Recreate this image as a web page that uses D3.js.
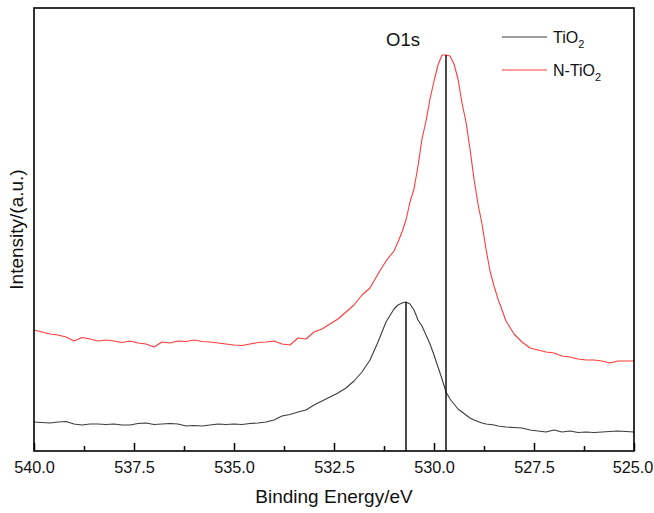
<!DOCTYPE html>
<html>
<head>
<meta charset="utf-8">
<script src="https://cdn.jsdelivr.net/npm/d3@7"></script>
<style>
  html, body { margin: 0; padding: 0; background: #fff; }
  svg { display: block; font-family: "Liberation Sans", Arial, sans-serif; }
</style>
</head>
<body>
<svg id="chart" width="654" height="513"></svg>
<script>
// O 1s XPS spectra, binding energy in eV (descending), intensity in arbitrary units
const energy = [
  540.0, 539.8, 539.6, 539.4, 539.2, 539.0, 538.8, 538.6, 538.4, 538.2,
  538.0, 537.8, 537.6, 537.4, 537.2, 537.0, 536.8, 536.6, 536.4, 536.2,
  536.0, 535.8, 535.6, 535.4, 535.2, 535.0, 534.8, 534.6, 534.4, 534.2,
  534.0, 533.8, 533.6, 533.4, 533.2, 533.0, 532.8, 532.6, 532.4, 532.2,
  532.0, 531.8, 531.6, 531.4, 531.2,
  531.0, 530.9, 530.8, 530.7, 530.6, 530.5, 530.4, 530.3, 530.2, 530.1,
  530.0, 529.9, 529.8, 529.7, 529.6, 529.5, 529.4, 529.3, 529.2, 529.1,
  529.0, 528.9, 528.8, 528.7, 528.6, 528.5, 528.4,
  528.2, 528.0, 527.8, 527.6, 527.4, 527.2, 527.0, 526.8, 526.6, 526.4,
  526.2, 526.0, 525.8, 525.6, 525.4, 525.2, 525.0
];

const tio2 = [
  29, 28.5, 28, 29, 29.5, 27, 26, 27, 27, 26.5,
  27, 26, 26, 27.5, 28, 26.5, 27, 27.5, 27, 25,
  25.5, 25, 26, 27, 26.5, 27, 26.5, 27.5, 28, 29,
  31, 35, 36.5, 39, 41, 46, 50, 54, 58, 63,
  70, 79, 91, 109, 129,
  142, 146, 148, 149, 147, 141, 131, 125, 116, 107,
  96, 84, 72, 59, 52, 47, 42, 39, 36, 33,
  31, 29.5, 28, 27, 26.5, 26, 25,
  24, 23.5, 23, 21, 20, 19, 21, 19, 20, 18.5,
  19, 18.5, 19, 19.5, 20, 19.5, 19
];

const ntio2 = [
  121, 119, 117, 116, 114, 110, 113.5, 112, 110, 111,
  110, 108.5, 110, 108, 107, 104, 109, 108, 110, 109.5,
  111, 109.5, 109, 108, 107, 106, 105.5, 107, 108.5, 109,
  110, 107, 106, 113, 112, 119, 122, 127, 132, 139,
  146, 156, 163, 177, 190,
  200, 209, 219, 231, 249, 262, 285, 312, 330, 352,
  370, 386, 396, 396, 395, 387, 372, 348, 329, 302,
  272, 247, 227, 202, 180, 165, 152,
  130, 117, 109, 103, 101, 99, 98, 95, 94, 92,
  91, 91, 90, 88, 90, 90, 90
];

const seriesNames = ["TiO2", "N-TiO2"];
const seriesColors = ["#3c3c3c", "#ff3b3b"];
const majorTicks = [540.0, 537.5, 535.0, 532.5, 530.0, 527.5, 525.0];
const minorTicks = [538.75, 536.25, 533.75, 531.25, 528.75, 526.25];
const peakEnergy = [530.7, 529.7];   // peak positions marked with vertical lines

const margin = { left: 34, right: 20, top: 8, bottom: 62 };
const W = 654, H = 513;
const svg = d3.select("#chart");

const x = d3.scaleLinear().domain([540, 525]).range([margin.left, W - margin.right]);
const y = d3.scaleLinear().domain([0, 443]).range([H - margin.bottom, margin.top]);

const plotBottom = H - margin.bottom;

// spectra
const series = [tio2, ntio2];
series.forEach((vals, i) => {
  const line = d3.line()
    .x((d, j) => x(energy[j]))
    .y(d => y(d));
  svg.append("path")
    .datum(vals)
    .attr("fill", "none")
    .attr("stroke", seriesColors[i])
    .attr("stroke-width", 1.1)
    .attr("stroke-linejoin", "round")
    .attr("d", line);
});

// peak markers
series.forEach((vals, i) => {
  const idx = energy.indexOf(peakEnergy[i]);
  svg.append("line")
    .attr("x1", x(peakEnergy[i])).attr("x2", x(peakEnergy[i]))
    .attr("y1", y(vals[idx])).attr("y2", plotBottom)
    .attr("stroke", "#111").attr("stroke-width", 1.5);
});

// frame
svg.append("rect")
  .attr("x", margin.left).attr("y", margin.top)
  .attr("width", W - margin.left - margin.right)
  .attr("height", plotBottom - margin.top)
  .attr("fill", "none").attr("stroke", "#000").attr("stroke-width", 1.6);

// bottom axis, ticks pointing inward
const xAxis = d3.axisBottom(x)
  .tickValues(majorTicks)
  .tickFormat(d3.format(".1f"))
  .tickSizeInner(-8).tickSizeOuter(0).tickPadding(10);
const gx = svg.append("g").attr("transform", `translate(0,${plotBottom})`).call(xAxis);
gx.select(".domain").remove();
gx.selectAll(".tick line").attr("stroke", "#000").attr("stroke-width", 1.5);
gx.selectAll(".tick text").attr("font-size", 16.3).attr("fill", "#111")
  .attr("font-family", "'Liberation Sans', Arial, sans-serif");
gx.selectAll(".tick text").filter(d => d === 525).attr("dx", -1.5);

const gxm = svg.append("g").attr("transform", `translate(0,${plotBottom})`)
  .call(d3.axisBottom(x).tickValues(minorTicks).tickFormat("").tickSizeInner(-5).tickSizeOuter(0));
gxm.select(".domain").remove();
gxm.selectAll(".tick line").attr("stroke", "#000").attr("stroke-width", 1.5);

// axis titles
svg.append("text")
  .attr("x", (margin.left + W - margin.right) / 2).attr("y", 503)
  .attr("text-anchor", "middle").attr("font-size", 19).attr("fill", "#111")
  .text("Binding Energy/eV");

svg.append("text")
  .attr("transform", `translate(23,${(margin.top + plotBottom) / 2}) rotate(-90)`)
  .attr("text-anchor", "middle").attr("font-size", 19).attr("fill", "#111")
  .text("Intensity/(a.u.)");

// peak label
svg.append("text")
  .attr("x", 403).attr("y", 46).attr("text-anchor", "middle")
  .attr("font-size", 18.5).attr("fill", "#111").text("O1s");

// legend
const legend = svg.append("g");
seriesNames.forEach((name, i) => {
  const ly = 37 + i * 33;
  legend.append("line")
    .attr("x1", 502).attr("x2", 547).attr("y1", ly).attr("y2", ly)
    .attr("stroke", seriesColors[i]).attr("stroke-width", 1.1);
  const t = legend.append("text").attr("x", 553).attr("y", ly + 6)
    .attr("font-size", 16).attr("fill", "#111");
  const base = name.slice(0, -1);
  t.append("tspan").text(base);
  t.append("tspan").attr("font-size", 11).attr("dy", 5).text("2");
});
</script>
</body>
</html>
